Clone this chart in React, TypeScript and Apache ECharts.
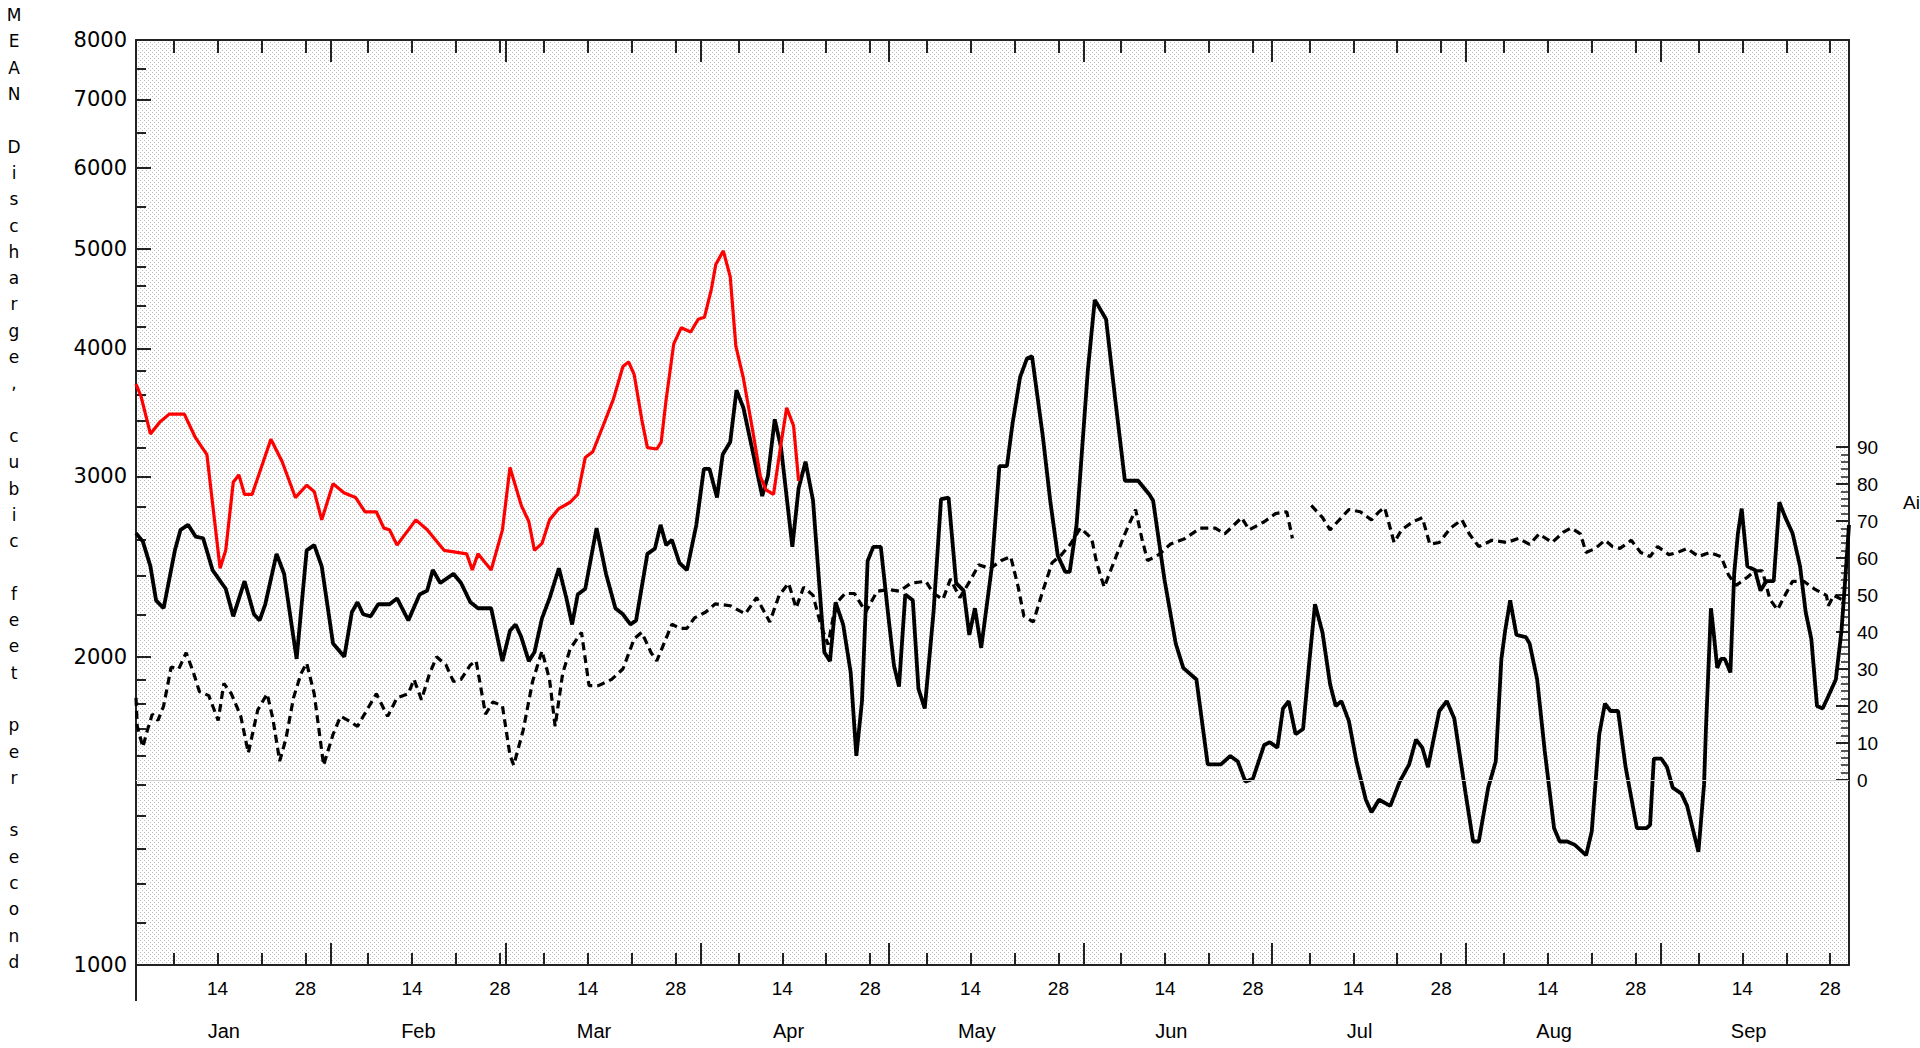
import React, { useEffect, useRef } from "react";
import * as echarts from "echarts";

// ---------- axis definitions ----------
const monthNames = ["Jan", "Feb", "Mar", "Apr", "May", "Jun", "Jul", "Aug", "Sep"];
const monthStartDays = [0, 31, 59, 90, 120, 151, 181, 212, 243, 273];
const dayLabelOffsets = [13, 27]; // 14th and 28th
const dayMinorOffsets = [6, 13, 20, 27]; // 7th, 14th, 21st, 28th
const dischargeMajorTicks = [1000, 2000, 3000, 4000, 5000, 6000, 7000, 8000];
const dischargeMinorTicks = [
  1100, 1200, 1300, 1400, 1500, 1600, 1700, 1800, 1900,
  2200, 2400, 2600, 2800,
  3200, 3400, 3600, 3800, 4200, 4400, 4600, 4800,
  5500, 6500, 7500,
];
const tempMajorTicks = [0, 10, 20, 30, 40, 50, 60, 70, 80, 90];
const tempMinorTicks = [
  2, 4, 6, 8, 12, 14, 16, 18, 22, 24, 26, 28, 32, 34, 36, 38, 42, 44, 46, 48,
  52, 54, 56, 58, 62, 64, 66, 68, 72, 74, 76, 78, 82, 84, 86, 88,
];

// ---------- series data: [day index from Jan 1, value] ----------
const redFlow: [number, number][] = [
  [0, 3690], [0.8, 3590], [2.3, 3300], [3.8, 3390], [5.3, 3450], [7.7, 3450], [9.5, 3270],
  [11.3, 3150], [13.4, 2440], [14.3, 2540], [15.5, 2960], [16.4, 3010], [17.3, 2880],
  [18.5, 2880], [21.5, 3260], [23.3, 3100], [25.4, 2860], [27.2, 2940], [28.4, 2900],
  [29.6, 2720], [31.4, 2950], [33.2, 2890], [35, 2860], [36.5, 2770], [38.3, 2770],
  [39.5, 2670], [40.4, 2660], [41.6, 2570], [44.6, 2720], [46.4, 2660], [49.1, 2540],
  [50.9, 2530], [52.7, 2520], [53.6, 2430], [54.5, 2520], [56.6, 2430], [58.4, 2660],
  [59.6, 3060], [61.4, 2810], [62.6, 2710], [63.5, 2540], [64.7, 2580], [65.9, 2720],
  [67.4, 2790], [69.2, 2830], [70.4, 2880], [71.6, 3130], [72.8, 3170], [74.6, 3380],
  [76.1, 3570], [77.6, 3840], [78.5, 3880], [79.4, 3770], [80.6, 3410], [81.5, 3200],
  [83, 3190], [83.7, 3240], [84.5, 3570], [85.7, 4040], [86.9, 4190], [88.4, 4150],
  [89.6, 4270], [90.6, 4290], [91.7, 4570], [92.4, 4830], [93.6, 4980], [94.7, 4700],
  [95.6, 4020], [96.8, 3740], [98.3, 3320], [99.5, 3000], [100.4, 2910], [101.6, 2880],
  [102.8, 3230], [103.7, 3500], [104.8, 3360], [105.6, 2970],
];

const blackFlow: [number, number][] = [
  [0, 2640], [1.1, 2590], [2.3, 2450], [3.2, 2270], [4.4, 2230], [6.2, 2540], [7.1, 2660],
  [8.3, 2690], [9.5, 2620], [10.7, 2610], [12.2, 2430], [14.3, 2330], [15.5, 2190],
  [17.3, 2370], [18.8, 2200], [19.7, 2170], [20.6, 2250], [22.4, 2520], [23.6, 2410],
  [24.5, 2210], [25.6, 1990], [27.2, 2540], [28.4, 2570], [29.6, 2450], [31.4, 2060],
  [33.2, 2000], [34.4, 2210], [35.3, 2260], [36.2, 2200], [37.4, 2190], [38.6, 2250],
  [40.4, 2250], [41.6, 2280], [43.4, 2170], [45.2, 2300], [46.4, 2320], [47.3, 2430],
  [48.5, 2360], [50.6, 2410], [51.8, 2360], [53.3, 2260], [54.5, 2230], [56.6, 2230],
  [58.4, 1980], [59.6, 2120], [60.5, 2150], [61.4, 2090], [62.6, 1980], [63.5, 2020],
  [64.7, 2180], [65.9, 2280], [67.4, 2440], [68.6, 2280], [69.5, 2150], [70.4, 2300],
  [71.6, 2330], [73.4, 2670], [74.9, 2410], [76.4, 2230], [77.6, 2200], [78.8, 2150],
  [79.7, 2170], [81.5, 2520], [82.7, 2550], [83.6, 2690], [84.5, 2570], [85.4, 2600],
  [86.6, 2470], [87.8, 2430], [89.3, 2690], [90.5, 3050], [91.4, 3050], [92.6, 2860],
  [93.5, 3150], [94.7, 3240], [95.7, 3640], [96.8, 3500], [98.3, 3170], [99.8, 2870],
  [100.7, 3000], [101.8, 3410], [102.8, 3200], [104.6, 2560], [105.6, 2920], [106.7, 3100],
  [107.9, 2840], [109.7, 2020], [110.6, 1980], [111.5, 2260], [112.7, 2150], [113.9, 1930],
  [114.8, 1600], [115.7, 1810], [116.6, 2480], [117.5, 2560], [118.7, 2560], [119.9, 2190],
  [120.8, 1960], [121.6, 1870], [122.6, 2300], [123.8, 2270], [124.7, 1860], [125.7, 1780],
  [127.1, 2210], [128.3, 2850], [129.5, 2860], [130.7, 2360], [131.9, 2320], [132.8, 2100],
  [133.7, 2230], [134.7, 2040], [136.4, 2450], [137.6, 3070], [138.8, 3070], [139.7, 3380],
  [140.9, 3750], [142, 3910], [142.8, 3930], [144.5, 3290], [145.7, 2840], [146.9, 2510],
  [148.1, 2420], [148.8, 2420], [149.9, 2690], [151.7, 3810], [152.8, 4460], [154.6, 4270],
  [156.1, 3550], [157.6, 2970], [159.7, 2970], [161.5, 2880], [162.1, 2840], [163.9, 2380],
  [165.7, 2060], [166.9, 1950], [169, 1900], [170.8, 1570], [172.9, 1570], [174.4, 1600],
  [175.6, 1580], [176.8, 1510], [178, 1520], [179.8, 1640], [180.7, 1650], [181.9, 1630],
  [182.8, 1780], [183.7, 1810], [184.8, 1680], [186, 1700], [187, 1980], [187.9, 2250],
  [189.1, 2110], [190.3, 1880], [191.2, 1790], [192.1, 1810], [193.3, 1730], [194.5, 1580],
  [196, 1450], [196.9, 1410], [198.1, 1450], [199.9, 1430], [201.4, 1510], [202.9, 1570],
  [204, 1660], [205, 1630], [205.9, 1560], [207.7, 1770], [208.9, 1810], [210.1, 1740],
  [211.9, 1470], [213.1, 1320], [214, 1320], [215.5, 1490], [216.7, 1580], [217.6, 1990],
  [218.2, 2120], [219, 2270], [220, 2100], [221.5, 2090], [222.1, 2060], [223.3, 1900],
  [224.5, 1620], [226, 1360], [226.9, 1320], [228.1, 1320], [229.3, 1310], [231.1, 1280],
  [232, 1350], [233.2, 1680], [234.1, 1800], [235, 1770], [236.2, 1770], [237.4, 1560],
  [239.2, 1360], [240.7, 1360], [241.3, 1370], [241.9, 1590], [243.1, 1590], [244, 1560],
  [244.9, 1490], [246.3, 1470], [247.2, 1430], [249, 1290], [249.9, 1500], [250.2, 1700],
  [251, 2230], [251.4, 2120], [252, 1950], [252.6, 1990], [253.2, 1990], [254.1, 1930],
  [254.7, 2410], [255.3, 2640], [255.9, 2790], [256.8, 2450], [258, 2430], [258.9, 2320],
  [259.8, 2370], [261, 2370], [261.9, 2830], [262.8, 2740], [264, 2640], [265.2, 2450],
  [266.1, 2210], [267, 2080], [267.9, 1790], [268.8, 1780], [269.7, 1830], [270.9, 1900],
  [271.8, 2120], [272.4, 2380], [273, 2690],
];

const airTemp: [number, number | string][] = [
  [0, 22.2], [0.2, 14.5], [1.1, 8.9], [1.7, 12.8], [2.6, 17.8], [3.5, 16.1], [4.4, 20],
  [5.6, 30.5], [6.8, 30], [8, 34.4], [9.2, 28.8], [10.1, 23.9], [11.6, 22.8], [13.1, 16.1],
  [14, 26.1], [15.2, 23.3], [16.7, 17.2], [17.9, 7.3], [19.4, 18.9], [20.9, 23.3],
  [21.8, 16.7], [22.9, 5.1], [23.9, 11.2], [25.1, 22.2], [26.3, 28.8], [27.2, 31.6],
  [28.4, 23.3], [29.9, 4], [31.4, 12.3], [32.6, 17.2], [33.8, 16.1], [35.3, 14.5],
  [36.8, 18.9], [38.3, 23.3], [40.1, 17.2], [41.6, 22.2], [43.4, 23.3], [44.3, 27.2],
  [45.5, 21.7], [46.7, 28.3], [47.9, 33.3], [49.4, 31.1], [50.6, 26.6], [51.8, 27.2],
  [53.3, 31.1], [54.2, 32.2], [55.7, 17.8], [56.9, 21.1], [58.4, 20], [59.6, 6.7],
  [60.2, 4], [61.7, 13.4], [63.2, 26.6], [64.7, 34.9], [65.9, 27.2], [66.8, 14.5],
  [68, 28.8], [69.2, 35.5], [71, 39.9], [72.2, 25.5], [73.7, 25.5], [75.8, 27.2],
  [77.6, 30], [79.4, 38.2], [80.6, 39.9], [82.1, 34.4], [83, 32.2], [84.2, 37.1],
  [85.4, 42.1], [86.6, 41], [87.8, 41], [89, 43.8], [90.8, 45.4], [92.3, 47.6],
  [94.7, 47.1], [97.1, 44.9], [98.9, 49.3], [101, 42.7], [102.5, 49.9], [104, 53.2],
  [105.2, 46.5], [106.4, 52.1], [107.9, 49.9], [109.1, 42.1], [110.3, 36.6], [111.5, 47.6],
  [113, 50.4], [114.5, 50.4], [116.3, 45.4], [118.1, 51], [119.9, 51.5], [121.7, 51],
  [123.5, 53.2], [125.9, 53.7], [127.1, 50.4], [128.6, 48.8], [129.8, 54.3], [131.3, 49.3],
  [133.1, 54.3], [134.3, 58.2], [136.1, 57.1], [137.9, 59.3], [139.4, 60.4], [140.6, 52.1],
  [141.5, 44.3], [143, 42.7], [144.5, 51], [146, 58.7], [147.5, 60.9], [148.9, 63.7],
  [150.5, 68.1], [152.3, 65.3], [153.1, 58.7], [154.3, 52.1], [155.8, 58.7], [157.6, 66.5],
  [159.3, 73.1], [160.3, 65.3], [161.2, 59.3], [163, 60.9], [164.8, 63.7], [167.2, 65.3],
  [169.6, 68.1], [172, 68.1], [173.5, 66.5], [176.2, 70.9], [177.4, 67.6], [179.8, 69.8],
  [181.6, 72], [183.4, 72.5], [184.3, 65.3], [185.8, "-"], [187.3, 74.2], [189.1, 70.9],
  [190.3, 67.6], [191.5, 69.8], [193.3, 73.1], [195.1, 72.5], [196.9, 70.3], [198.1, 72.5],
  [199, 73.6], [200.5, 64.2], [201.7, 67.6], [203.5, 69.8], [205, 70.9], [206.2, 63.7],
  [207.7, 64.2], [209.5, 68.1], [211.3, 70.3], [212.5, 66.5], [214, 63.1], [216.1, 64.8],
  [218.5, 64.2], [220.3, 65.3], [222.1, 63.7], [223.6, 66.5], [225.7, 64.2], [227.5, 67],
  [228.7, 68.1], [230.2, 66.5], [231.1, 61.5], [232.6, 62.6], [234.1, 64.8], [235.3, 63.1],
  [236.5, 62.6], [238.3, 64.8], [239.8, 61.5], [241.3, 60.4], [242.5, 63.1], [244.3, 60.9],
  [245.7, 61.5], [247.2, 62.6], [249, 60.4], [250.8, 61.5], [252.6, 60.4], [253.8, 55.4],
  [255, 52.6], [256.8, 54.8], [258, 56.5], [259.2, 56.5], [260.4, 48.8], [261.6, 46],
  [262.8, 49.9], [264, 53.7], [265.8, 53.7], [267.6, 51.5], [269.4, 49.9], [269.7, 47.1],
  [270.6, 49.9], [271.8, 48.8],
];

const yTitle = "MEAN Discharge, cubic feet per second";
const rightTitle = "Ai";

const AXIS_COLOR = "#222";
const LABEL_FONT = "Liberation Sans";

function monthOf(v: number): number {
  let m = 0;
  for (let i = 0; i < monthStartDays.length - 1; i++) {
    if (v >= monthStartDays[i] - 0.01) m = i;
  }
  return m;
}

export default function App() {
  const ref = useRef<HTMLDivElement>(null);

  useEffect(() => {
    if (!ref.current) return;
    const chart = echarts.init(ref.current, undefined, { renderer: "svg" });

    const tile = document.createElement("canvas");
    tile.width = 4;
    tile.height = 4;
    const ctx = tile.getContext("2d");
    if (ctx) {
      ctx.fillStyle = "#ffffff";
      ctx.fillRect(0, 0, 4, 4);
      ctx.fillStyle = "#bdbdbd";
      ctx.fillRect(0, 0, 1, 1);
      ctx.fillRect(2, 2, 1, 1);
    }

    const months = monthStartDays.slice(0, 9);
    const dayLabelValues: number[] = [];
    const dayMinorValues: number[] = [];
    months.forEach((s) => {
      dayLabelOffsets.forEach((o) => dayLabelValues.push(s + o));
      dayMinorOffsets.forEach((o) => dayMinorValues.push(s + o));
    });
    const monthMidValues = months.map((s) => s + 14);

    const baseX = {
      type: "value",
      min: 0,
      max: 273,
      splitLine: { show: false },
      axisLine: { show: false, onZero: false },
      axisTick: { show: false },
      axisLabel: { show: false },
    };

    const tickStyle = { color: AXIS_COLOR, width: 2 };

    const option: any = {
      animation: false,
      backgroundColor: "#ffffff",
      grid: {
        left: 136,
        right: 71,
        top: 40,
        bottom: 83,
        show: true,
        borderWidth: 0,
        backgroundColor: { image: tile, repeat: "repeat", imageWidth: 4, imageHeight: 4 },
      },
      xAxis: [
        {
          ...baseX,
          position: "bottom",
          axisLine: { show: true, onZero: false, lineStyle: { color: AXIS_COLOR, width: 2 } },
          axisTick: { show: true, inside: true, length: 22, customValues: monthStartDays, lineStyle: tickStyle },
          axisLabel: {
            show: true,
            customValues: dayLabelValues,
            margin: 14,
            fontSize: 19,
            fontFamily: LABEL_FONT,
            color: "#000",
            formatter: (v: number) => String(Math.round(v - monthStartDays[monthOf(v)] + 1)),
          },
        },
        {
          ...baseX,
          position: "bottom",
          axisTick: { show: true, inside: true, length: 12, customValues: dayMinorValues, lineStyle: tickStyle },
        },
        {
          ...baseX,
          position: "bottom",
          axisLabel: {
            show: true,
            customValues: monthMidValues,
            margin: 56,
            fontSize: 20,
            fontFamily: LABEL_FONT,
            color: "#000",
            formatter: (v: number) => monthNames[monthOf(v)],
          },
        },
        {
          ...baseX,
          position: "top",
          axisLine: { show: true, onZero: false, lineStyle: { color: AXIS_COLOR, width: 2 } },
          axisTick: { show: true, inside: true, length: 22, customValues: monthStartDays, lineStyle: tickStyle },
        },
        {
          ...baseX,
          position: "top",
          axisTick: { show: true, inside: true, length: 13, customValues: dayMinorValues, lineStyle: tickStyle },
        },
      ],
      yAxis: [
        {
          type: "log",
          logBase: 10,
          min: 1000,
          max: 8000,
          position: "left",
          splitLine: { show: false },
          minorTick: { show: false },
          axisLine: { show: true, onZero: false, lineStyle: { color: AXIS_COLOR, width: 2 } },
          axisTick: { show: true, inside: true, length: 15, customValues: dischargeMajorTicks, lineStyle: tickStyle },
          axisLabel: {
            show: true,
            customValues: dischargeMajorTicks,
            margin: 9,
            fontSize: 21,
            fontFamily: "DejaVu Sans",
            color: "#000",
            formatter: (v: number) => String(Math.round(v)),
          },
        },
        {
          type: "value",
          min: -50,
          max: 200,
          position: "right",
          splitLine: { show: false },
          axisLine: { show: true, onZero: false, lineStyle: { color: AXIS_COLOR, width: 2 } },
          axisTick: { show: true, inside: true, length: 13, customValues: tempMajorTicks, lineStyle: tickStyle },
          axisLabel: {
            show: true,
            customValues: tempMajorTicks,
            margin: 8,
            fontSize: 19,
            fontFamily: LABEL_FONT,
            color: "#000",
            formatter: (v: number) => String(Math.round(v)),
          },
        },
        {
          type: "log",
          logBase: 10,
          min: 1000,
          max: 8000,
          position: "left",
          splitLine: { show: false },
          axisLine: { show: false, onZero: false },
          axisLabel: { show: false },
          axisTick: { show: true, inside: true, length: 10, customValues: dischargeMinorTicks, lineStyle: tickStyle },
        },
        {
          type: "value",
          min: -50,
          max: 200,
          position: "right",
          splitLine: { show: false },
          axisLine: { show: false, onZero: false },
          axisLabel: { show: false },
          axisTick: { show: true, inside: true, length: 8, customValues: tempMinorTicks, lineStyle: { color: AXIS_COLOR, width: 1.5 } },
        },
      ],
      series: [
        {
          name: "Air temperature",
          type: "line",
          xAxisIndex: 0,
          yAxisIndex: 1,
          data: airTemp,
          showSymbol: false,
          symbol: "none",
          connectNulls: false,
          lineStyle: { color: "#000", width: 3.2, type: [8, 5] },
          markLine: {
            silent: true,
            symbol: ["none", "none"],
            label: { show: false },
            lineStyle: { color: "#cfcfcf", width: 1, type: "solid" },
            data: [{ yAxis: 0 }],
          },
          z: 3,
        },
        {
          name: "Discharge (black)",
          type: "line",
          xAxisIndex: 0,
          yAxisIndex: 0,
          data: blackFlow,
          showSymbol: false,
          symbol: "none",
          lineStyle: { color: "#000", width: 3.8 },
          z: 4,
        },
        {
          name: "Discharge (red)",
          type: "line",
          xAxisIndex: 0,
          yAxisIndex: 0,
          data: redFlow,
          showSymbol: false,
          symbol: "none",
          lineStyle: { color: "#ff0000", width: 3.2 },
          z: 5,
        },
      ],
      graphic: [
        {
          type: "text",
          x: 14,
          y: 2,
          style: {
            text: yTitle.split("").join("\n"),
            textAlign: "center",
            textVerticalAlign: "top",
            font: '17px "DejaVu Sans"',
            lineHeight: 26.3,
            fill: "#000",
          },
        },
        {
          type: "text",
          x: 1903,
          y: 502,
          style: {
            text: rightTitle,
            textAlign: "left",
            textVerticalAlign: "middle",
            font: '19px "Liberation Sans"',
            fill: "#000",
          },
        },
        {
          type: "line",
          shape: { x1: 136, y1: 964, x2: 136, y2: 1001 },
          style: { stroke: AXIS_COLOR, lineWidth: 2 },
        },
      ],
    };

    chart.setOption(option);
    return () => chart.dispose();
  }, []);

  return (
    <div
      ref={ref}
      style={{ position: "fixed", left: 0, top: 0, width: 1920, height: 1048, background: "#fff" }}
    />
  );
}
